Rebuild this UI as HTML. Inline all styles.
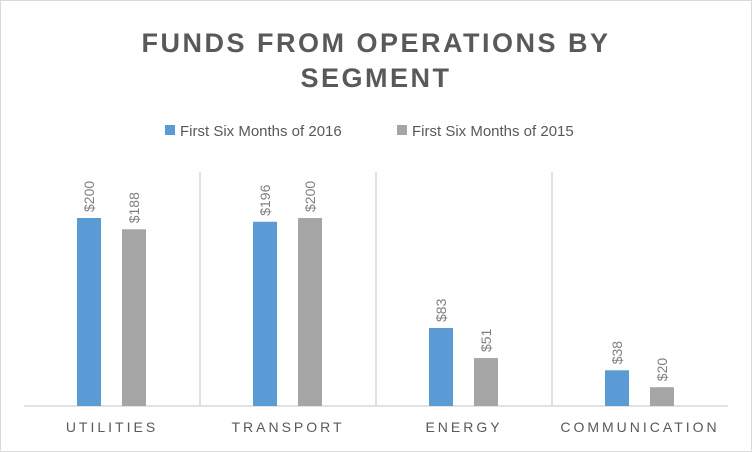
<!DOCTYPE html>
<html><head><meta charset="utf-8"><style>
body{margin:0;background:#fff;}
svg{display:block;font-family:"Liberation Sans",sans-serif;}
</style></head><body>
<svg width="752" height="452">
<rect x="0.5" y="0.5" width="751" height="451" fill="#fff" stroke="#d9d9d9"/>
<text x="376" y="52" text-anchor="middle" font-size="27" font-weight="bold" fill="#595959" letter-spacing="2.5">FUNDS FROM OPERATIONS BY</text>
<text x="376" y="87" text-anchor="middle" font-size="27" font-weight="bold" fill="#595959" letter-spacing="2.5">SEGMENT</text>
<g>
<rect x="165" y="125" width="10" height="10" fill="#5b9bd5"/>
<text x="180" y="136" font-size="15" fill="#595959">First Six Months of 2016</text>
<rect x="397" y="125" width="10" height="10" fill="#a5a5a5"/>
<text x="412" y="136" font-size="15" fill="#595959">First Six Months of 2015</text>
</g>
<g id="plot"></g>
</svg>
<script>
const categories=["UTILITIES","TRANSPORT","ENERGY","COMMUNICATION"];
const values2016=[200,196,83,38];
const values2015=[188,200,51,20];
const labels2016=["$200","$196","$83","$38"];
const labels2015=["$188","$200","$51","$20"];
const NS="http://www.w3.org/2000/svg";
const plotG=document.getElementById('plot');
const plotLeft=24,plotRight=728,plotTopEdge=172,plotBase=406,maxV=200,plotMaxY=218;
const cw=(plotRight-plotLeft)/categories.length;
const yScale=v=>plotBase-(v/maxV)*(plotBase-plotMaxY);
function mk(t,a){const e=document.createElementNS(NS,t);for(const k in a)e.setAttribute(k,a[k]);plotG.appendChild(e);return e;}
for(let i=1;i<categories.length;i++){
 const l=mk('line',{x1:plotLeft+i*cw,x2:plotLeft+i*cw,y1:plotTopEdge,y2:plotBase,stroke:'#d9d9d9','stroke-width':1.5});
 
 
}
const ax=mk('line',{x1:plotLeft,x2:plotRight,y1:plotBase,y2:plotBase,stroke:'#d9d9d9','stroke-width':1.5});


const series=[[values2016,labels2016,'#5b9bd5',53,'2016'],[values2015,labels2015,'#a5a5a5',98,'2015']];
categories.forEach((c,i)=>{
 const x0=plotLeft+i*cw;
 series.forEach(s=>{
  const v=s[0][i],yy=yScale(v);
  const r=mk('rect',{x:x0+s[3],y:yy,width:24,height:plotBase-yy,fill:s[2]});
  
  
  const tx=x0+s[3]+12+5,ty=yy-6;
  const t=mk('text',{x:tx,y:ty,'font-size':14,fill:'#7f7f7f',transform:`rotate(-90 ${tx} ${ty})`});
  t.textContent=s[1][i];
  
  
 });
 const t=mk('text',{x:x0+cw/2,y:432,'font-size':14,fill:'#595959','text-anchor':'middle','letter-spacing':3});
 t.textContent=c;
 
 
});
</script>
</body></html>
